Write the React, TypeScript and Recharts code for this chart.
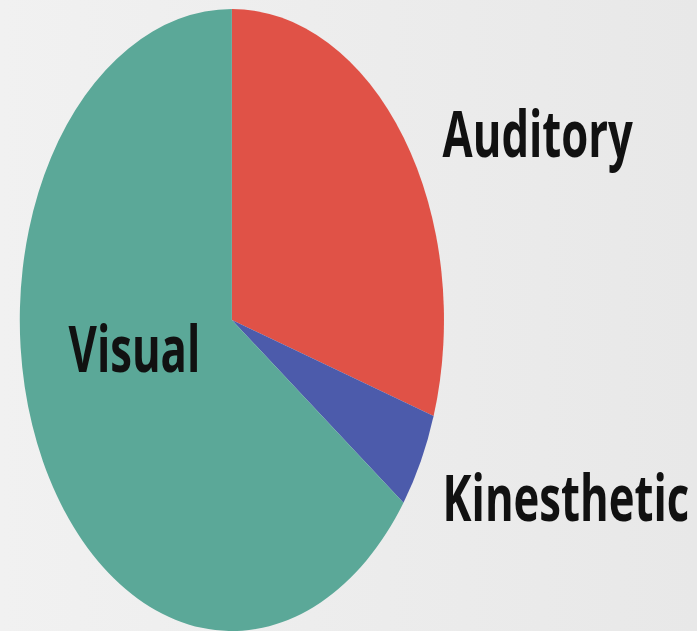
import { PieChart, Pie, Cell } from 'recharts';

const styles = ['Auditory', 'Kinesthetic', 'Visual'];
const shares = [30, 5, 65];
const colors = ['#e05247', '#4c5bab', '#5ba898'];

const data = styles.map((name, i) => ({ name, value: shares[i] }));

// the source picture is squeezed horizontally, so the chart is drawn wide and scaled down
const SX = 0.682;
const W = 1022;
const H = 631;

const renderLabel = (props: any) => {
  const { cx, cy, outerRadius, name } = props;
  let x = cx + outerRadius - 2;
  let y = cy - 163;
  if (name === 'Kinesthetic') y = cy + 201;
  if (name === 'Visual') {
    x = cx - outerRadius * 0.77;
    y = cy + 52;
  }
  return (
    <text
      x={x}
      y={y}
      textAnchor="start"
      fill="#111"
      fontFamily="'Open Sans', sans-serif"
      fontWeight={700}
      fontSize={64}
    >
      {name}
    </text>
  );
};

export default function App() {
  return (
    <div
      style={{
        position: 'absolute',
        left: 0,
        top: 0,
        width: 697,
        height: H,
        overflow: 'hidden',
        background: 'linear-gradient(to right, #f1f1f1, #e8e8e8)',
      }}
    >
      <div style={{ width: W, height: H, transform: `scaleX(${SX})`, transformOrigin: '0 0' }}>
        <PieChart width={W} height={H}>
          <Pie
            data={data}
            dataKey="value"
            nameKey="name"
            cx={335}
            cy={315}
            outerRadius={311}
            startAngle={90}
            endAngle={-270}
            stroke="none"
            label={renderLabel}
            labelLine={false}
            isAnimationActive={false}
          >
            {data.map((d, i) => (
              <Cell key={d.name} fill={colors[i]} />
            ))}
          </Pie>
        </PieChart>
      </div>
    </div>
  );
}
